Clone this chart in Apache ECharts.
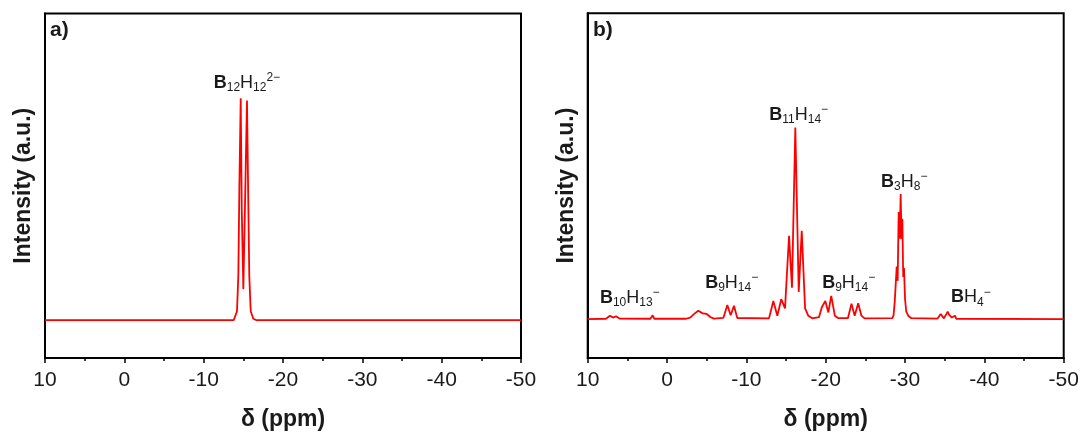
<!DOCTYPE html>
<html>
<head>
<meta charset="utf-8">
<script src="https://cdn.jsdelivr.net/npm/echarts@6/dist/echarts.min.js"></script>
<style>
  html, body { margin: 0; padding: 0; background: #fff; }
  #main { width: 1083px; height: 436px; }
</style>
</head>
<body>
<div id="main"></div>
<script>
// panel a) - chemical shift (ppm) and intensity
var shiftA = [10, -13.8, -13.95, -14.2, -14.37, -14.5, -14.67, -14.8, -15.0, -15.2, -15.46, -15.6, -15.75, -15.93, -16.26, -16.6, -50];
var intensityA = [0, 0, 0.008, 0.04, 0.2, 0.6, 1.0, 0.5, 0.139, 0.5, 0.99, 0.6, 0.2, 0.04, 0.006, 0, 0];

// panel b)
var shiftB = [10, 7.7, 7.19, 6.8, 6.43, 6.0, 2.1, 1.81, 1.6, -2.4, -2.9, -3.5, -3.94, -4.5, -5.0, -5.5, -5.9,
  -7.1, -7.6, -8.02, -8.44, -8.85, -12.85, -13.4, -13.9, -14.4, -14.87, -15.38, -15.75, -16.17, -16.6, -16.98,
  -17.4, -17.8, -18.3, -19.15, -19.5, -19.95, -20.33, -20.7, -21.15, -21.6, -22.8, -23.25, -23.65, -24.1, -24.5,
  -24.9, -28.4, -28.55, -28.7, -28.85, -28.95, -29.07, -29.2, -29.32, -29.45, -29.56, -29.66, -29.77, -29.87,
  -30.0, -30.15, -30.4, -30.8, -34.1, -34.5, -34.9, -35.38, -35.52, -35.67, -35.9, -36.3, -36.45, -50];
var intensityB = [0, 0.002, 0.018, 0.008, 0.015, 0.003, 0.002, 0.02, 0.002, 0.002, 0.008, 0.03, 0.044, 0.03, 0.027, 0.01, 0.003,
  0.006, 0.074, 0.02, 0.07, 0.006, 0.004, 0.095, 0.018, 0.104, 0.056, 0.435, 0.164, 1.0, 0.142, 0.461,
  0.056, 0.018, 0.004, 0.01, 0.061, 0.095, 0.035, 0.121, 0.018, 0.005, 0.005, 0.081, 0.018, 0.083, 0.018,
  0.004, 0.005, 0.02, 0.09, 0.2, 0.275, 0.2, 0.559, 0.42, 0.653, 0.42, 0.524, 0.22, 0.267,
  0.105, 0.04, 0.018, 0.005, 0.003, 0.027, 0.004, 0.039, 0.025, 0.032, 0.008, 0.018, 0.002, 0];

// peak labels: rich text, position (ppm, intensity)
var labelsA = [
  { text: '{b|B}{s|12}{n|H}{s|12}{p|2\u2212}', x: -15.45, y: 1.069 }
];
var labelsB = [
  { text: '{b|B}{s|10}{n|H}{s|13}{p|\u2212}', x: 4.7, y: 0.111 },
  { text: '{b|B}{s|9}{n|H}{s|14}{p|\u2212}', x: -8.15, y: 0.188 },
  { text: '{b|B}{s|11}{n|H}{s|14}{p|\u2212}', x: -16.6, y: 1.068 },
  { text: '{b|B}{s|9}{n|H}{s|14}{p|\u2212}', x: -22.9, y: 0.188 },
  { text: '{b|B}{s|3}{n|H}{s|8}{p|\u2212}', x: -29.9, y: 0.718 },
  { text: '{b|B}{n|H}{s|4}{p|\u2212}', x: -38.3, y: 0.113 }
];

var font = 'Liberation Sans, Arial, sans-serif';
var txtColor = '#1a1a1a';

var rich = {
  b: { fontFamily: font, fontWeight: 'bold', fontSize: 18, color: txtColor, lineHeight: 22, verticalAlign: 'middle' },
  n: { fontFamily: font, fontSize: 18, color: txtColor, lineHeight: 22, verticalAlign: 'middle' },
  s: { fontFamily: font, fontSize: 12, color: txtColor, lineHeight: 12, verticalAlign: 'bottom' },
  p: { fontFamily: font, fontSize: 12, color: txtColor, lineHeight: 12, verticalAlign: 'top' }
};

function toPairs(xs, ys) {
  return xs.map(function (x, i) { return [x, ys[i]]; });
}

function markData(list) {
  return list.map(function (l) {
    return { coord: [l.x, l.y], label: { formatter: l.text } };
  });
}

function xAxis(idx) {
  return {
    gridIndex: idx,
    type: 'value',
    inverse: true,
    min: -50,
    max: 10,
    interval: 10,
    name: '\u03b4 (ppm)',
    nameLocation: 'middle',
    nameGap: 50,
    nameTextStyle: { fontFamily: font, fontWeight: 'bold', fontSize: 23, color: txtColor },
    axisLine: { show: true, onZero: false, lineStyle: { color: '#000', width: 2 } },
    axisTick: { show: true, inside: false, length: 5, lineStyle: { color: '#000', width: 1.5 } },
    minorTick: { show: true, splitNumber: 2, length: 3, lineStyle: { color: '#000', width: 1.5 } },
    axisLabel: { fontFamily: font, fontSize: 21, color: txtColor, margin: 12 },
    splitLine: { show: false }
  };
}

function yAxis(idx, min, max) {
  return {
    gridIndex: idx,
    type: 'value',
    min: min,
    max: max,
    name: 'Intensity (a.u.)',
    nameLocation: 'middle',
    nameGap: 10,
    nameTextStyle: { fontFamily: font, fontWeight: 'bold', fontSize: 23, color: txtColor },
    axisLine: { show: true, onZero: false, lineStyle: { color: '#000', width: 2 } },
    axisTick: { show: false },
    axisLabel: { show: false },
    splitLine: { show: false }
  };
}

function series(idx, data, labels) {
  return {
    type: 'line',
    xAxisIndex: idx,
    yAxisIndex: idx,
    data: data,
    showSymbol: false,
    smooth: false,
    clip: true,
    animation: false,
    lineStyle: { color: '#ff0000', width: 1.8 },
    markPoint: {
      symbol: 'circle',
      symbolSize: 1,
      itemStyle: { color: 'rgba(0,0,0,0)' },
      label: { show: true, position: 'inside', rich: rich },
      data: markData(labels),
      animation: false
    }
  };
}

var chart = echarts.init(document.getElementById('main'), null, { renderer: 'canvas' });

var option = {
  backgroundColor: '#fff',
  animation: false,
  grid: [
    { left: 45, top: 13.5, width: 476, height: 349.5, show: true, borderColor: '#000', borderWidth: 2, backgroundColor: 'transparent' },
    { left: 587.7, top: 13.3, width: 476, height: 349.7, show: true, borderColor: '#000', borderWidth: 2, backgroundColor: 'transparent' }
  ],
  xAxis: [xAxis(0), xAxis(1)],
  yAxis: [yAxis(0, -0.171, 1.382), yAxis(1, -0.203, 1.597)],
  series: [
    series(0, toPairs(shiftA, intensityA), labelsA),
    series(1, toPairs(shiftB, intensityB), labelsB)
  ],
  graphic: [
    { type: 'text', left: 50, top: 20, style: { text: 'a)', fontFamily: font, fontWeight: 'bold', fontSize: 21, fill: txtColor } },
    { type: 'text', left: 593, top: 20, style: { text: 'b)', fontFamily: font, fontWeight: 'bold', fontSize: 21, fill: txtColor } }
  ]
};

chart.setOption(option);
</script>
</body>
</html>
